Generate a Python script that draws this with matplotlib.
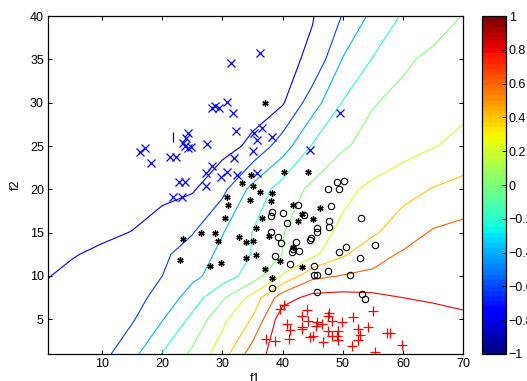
import numpy as np
import matplotlib
matplotlib.use("Agg")
import matplotlib.pyplot as plt
from matplotlib.colors import Normalize
from matplotlib.cm import ScalarMappable

plt.rcParams["font.family"] = ["Liberation Sans", "DejaVu Sans"]

# classifier output, on a coarse grid
grid_f1 = [1, 5, 10, 15, 20, 25, 30, 35, 40, 45, 50, 55, 60, 65, 70]
grid_f2 = [1, 5, 7.5, 10, 12.5, 15, 20, 25, 30, 35, 40]
field = [
    [-0.73, -0.70, -0.66, -0.46, -0.19, 0.04, 0.31, 0.70, 0.92, 0.92, 0.95, 0.95, 0.93, 0.91, 0.90],
    [-0.74, -0.71, -0.67, -0.62, -0.41, -0.15, 0.15, 0.42, 0.92, 0.91, 0.92, 0.91, 0.88, 0.86, 0.83],
    [-0.77, -0.74, -0.70, -0.66, -0.54, -0.30, -0.03, 0.27, 0.72, 0.86, 0.87, 0.85, 0.80, 0.78, 0.76],
    [-0.805, -0.765, -0.71, -0.655, -0.60, -0.45, -0.30, -0.11, 0.22, 0.55, 0.61, 0.63, 0.66, 0.69, 0.72],
    [-0.83, -0.81, -0.77, -0.70, -0.634, -0.515, -0.35, -0.19, 0.005, 0.15, 0.37, 0.54, 0.62, 0.66, 0.70],
    [-0.86, -0.85, -0.83, -0.795, -0.70, -0.61, -0.41, -0.195, -0.008, 0.12, 0.243, 0.37, 0.515, 0.62, 0.66],
    [-0.93, -0.92, -0.91, -0.89, -0.86, -0.82, -0.65, -0.34, -0.105, 0.043, 0.15, 0.244, 0.326, 0.41, 0.47],
    [-0.95, -0.95, -0.94, -0.93, -0.92, -0.90, -0.87, -0.76, -0.50, -0.18, -0.02, 0.058, 0.123, 0.19, 0.25],
    [-0.95, -0.95, -0.95, -0.95, -0.95, -0.95, -0.92, -0.88, -0.82, -0.49, -0.19, -0.01, 0.045, 0.10, 0.15],
    [-0.95, -0.95, -0.95, -0.95, -0.95, -0.95, -0.95, -0.92, -0.86, -0.76, -0.39, -0.19, -0.03, 0.04, 0.10],
    [-0.96, -0.96, -0.96, -0.96, -0.96, -0.96, -0.93, -0.90, -0.85, -0.81, -0.59, -0.35, -0.18, -0.09, 0.005],
]
levels = [-0.8, -0.6, -0.4, -0.2, 0.0, 0.2, 0.4, 0.6, 0.8]

# class -1 (blue crosses)
cross_f1 = [36.2, 31.5, 30.8, 28.2, 28.8, 29.5, 31.7, 32.3, 16.3, 17.2, 18.2, 21.3, 22.3,
            24.2, 24.0, 23.5, 24.8, 24.3, 23.8, 27.5, 27.3, 28.3, 22.7, 23.7, 27.3, 29.8,
            30.7, 32.0, 32.5, 21.7, 23.3, 35.0, 35.7, 35.8, 35.3, 36.5, 38.3, 44.5, 49.5]
cross_f2 = [35.74, 34.59, 30.10, 29.41, 29.64, 29.41, 28.83, 26.76, 24.34, 24.80, 23.07, 23.76, 23.76,
            26.53, 25.95, 25.38, 24.92, 24.80, 25.03, 25.26, 21.92, 22.73, 20.80, 20.80, 20.43, 21.46,
            22.04, 23.65, 21.69, 19.16, 19.16, 24.45, 25.72, 21.92, 26.53, 27.11, 26.07, 24.57, 28.83]
bar_f1 = [21.8]
bar_f2 = [26.0]

# black asterisks
star_f1 = [37.0, 40.3, 44.3, 34.8, 33.3, 35.0, 30.7, 31.0, 34.5, 36.3, 38.3, 38.0, 30.5, 41.7,
           43.3, 45.0, 46.3, 42.5, 36.5, 23.5, 26.5, 28.8, 29.3, 32.8, 34.0, 35.0, 35.5, 34.0,
           35.5, 23.0, 28.0, 29.7, 37.8, 37.0, 39.5, 43.2, 38.2, 41.7]
star_f2 = [29.98, 22.04, 22.04, 21.69, 20.77, 20.43, 19.16, 18.24, 18.82, 19.74, 19.62, 18.70, 16.75, 18.24,
           17.20, 16.63, 17.89, 16.40, 16.75, 14.32, 15.01, 15.01, 14.09, 14.55, 13.98, 14.09, 15.59, 12.02,
           12.37, 11.79, 11.10, 11.45, 14.67, 10.77, 11.69, 11.00, 9.72, 13.40]

# black open circles
ring_f1 = [49.0, 50.2, 47.5, 49.3, 42.5, 48.0, 38.3, 38.0, 40.0, 43.5, 40.8, 47.7, 53.0, 45.8,
           45.7, 47.7, 38.0, 39.2, 39.7, 42.3, 44.5, 44.8, 41.7, 42.7, 41.5, 38.7, 41.2, 49.3,
           50.5, 55.3, 52.8, 45.2, 45.3, 45.8, 47.5, 51.2, 38.2, 45.7, 53.2, 53.7]
ring_f2 = [20.89, 21.00, 20.08, 20.08, 18.24, 18.12, 17.43, 16.98, 17.32, 17.09, 16.17, 16.40, 16.75, 15.59,
           15.13, 15.71, 15.13, 14.55, 13.86, 13.98, 14.21, 14.44, 13.06, 12.83, 12.72, 12.26, 11.33, 12.72,
           13.29, 13.52, 12.02, 11.10, 10.07, 10.07, 10.53, 10.07, 8.57, 8.11, 7.88, 7.31]

# class +1 (red plus signs)
plus_f1 = [39.5, 40.3, 44.0, 43.3, 44.2, 43.3, 40.7, 41.2, 45.8, 46.5, 45.5, 47.5, 47.8, 48.2,
           47.5, 48.2, 49.2, 49.0, 49.8, 51.7, 52.5, 52.8, 52.5, 51.5, 54.2, 55.0, 57.3, 57.8,
           59.8, 55.3, 45.0, 46.7, 49.2, 37.3, 38.7, 41.0, 44.5, 43.2]
plus_f2 = [6.15, 6.61, 6.03, 5.34, 4.77, 4.08, 4.43, 3.74, 4.66, 4.43, 4.20, 5.34, 5.69, 4.77,
           3.62, 3.04, 3.62, 3.04, 4.66, 5.23, 3.85, 3.16, 2.58, 1.89, 4.08, 5.92, 3.39, 3.39,
           2.01, 1.20, 3.04, 2.35, 2.58, 2.70, 2.47, 2.70, 2.93, 3.85]

x_ticks = [10, 20, 30, 40, 50, 60, 70]
y_ticks = [5, 10, 15, 20, 25, 30, 35, 40]
cbar_ticks = [-1, -0.8, -0.6, -0.4, -0.2, 0, 0.2, 0.4, 0.6, 0.8, 1]
cbar_labels = ["\u22121", "\u22120.8", "\u22120.6", "\u22120.4", "\u22120.2", "0",
               "0.2", "0.4", "0.6", "0.8", "1"]


def main() -> None:
    cmap = plt.get_cmap("jet", 64)
    norm = Normalize(vmin=-1, vmax=1)

    fig = plt.figure(figsize=(5.27, 3.81), dpi=100)
    ax = fig.add_axes([0.0911, 0.0709, 0.7875, 0.887])
    cax = fig.add_axes([0.9146, 0.0709, 0.0455, 0.887])

    gx, gy = np.meshgrid(grid_f1, grid_f2)
    ax.contour(gx, gy, np.array(field), levels=levels, cmap=cmap, norm=norm,
               linewidths=0.8)

    ax.plot(cross_f1, cross_f2, linestyle="none", marker="x", color="#0000ff",
            markersize=6.2, markeredgewidth=0.9)
    ax.plot(bar_f1, bar_f2, linestyle="none", marker="|", color="#0000aa",
            markersize=7, markeredgewidth=0.9)
    ax.plot(star_f1, star_f2, linestyle="none", marker=(6, 2, 0), color="black",
            markersize=4.5, markeredgewidth=1.0)
    ax.plot(ring_f1, ring_f2, linestyle="none", marker="o", markerfacecolor="none",
            markeredgecolor="black", markersize=4.6, markeredgewidth=0.8)
    ax.plot(plus_f1, plus_f2, linestyle="none", marker="+", color="#ff0000",
            markersize=7.5, markeredgewidth=0.9)

    ax.set_xlim(1, 70)
    ax.set_ylim(1, 40)
    ax.set_xticks(x_ticks)
    ax.set_yticks(y_ticks)
    ax.tick_params(direction="in", top=True, right=True, length=3, width=0.7,
                   labelsize=9, pad=3)
    for sp in ax.spines.values():
        sp.set_linewidth(0.9)
    ax.set_xlabel("f1", fontsize=9, labelpad=2)
    ax.set_ylabel("f2", fontsize=9, labelpad=6)

    cb = fig.colorbar(ScalarMappable(norm=norm, cmap=cmap), cax=cax, ticks=cbar_ticks)
    cb.ax.set_yticklabels(cbar_labels)
    cb.ax.tick_params(direction="in", length=3, width=0.7, labelsize=9, pad=2)
    cb.outline.set_linewidth(0.9)

    fig.savefig("out.png", dpi=100)
    plt.close(fig)


if __name__ == "__main__":
    main()
